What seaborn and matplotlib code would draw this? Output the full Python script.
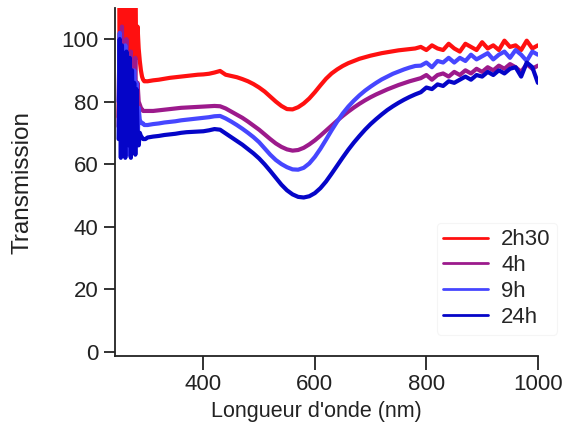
import pandas as pd
import seaborn as sns
import matplotlib.pyplot as plt

# wavelengths (nm): noisy UV edge, smooth middle, noisy red end
wl_edge = [248, 250, 252, 254, 256, 258, 260, 262, 264, 266, 268, 270, 272,
           274, 276, 278, 280, 282, 284, 286, 288, 290, 292, 294, 296]
wl_mid = [300, 310, 320, 330, 340, 350, 360, 370, 380, 390, 400, 410, 420,
          430, 440, 450, 460, 470, 480, 490, 500, 510, 520, 530, 540, 550,
          560, 570, 580, 590, 600, 610, 620, 630, 640, 650, 660, 670, 680,
          690, 700, 710, 720, 730, 740, 750, 760, 770, 780]
wl_end = [790, 800, 810, 820, 830, 840, 850, 860, 870, 880, 890, 900, 910,
          920, 930, 940, 950, 960, 970, 980, 990, 1000]

t_2h30 = ([75, 110, 82, 112, 88, 106, 80, 112, 90, 104, 84, 112, 92, 108, 86,
           110, 94, 104, 97, 93, 90, 88, 87, 86.5, 86.5]
          + [86.5, 86.8, 87, 87.3, 87.6, 87.8, 88, 88.2, 88.4, 88.6, 88.7, 88.9,
             89.3, 89.8, 88.6, 88.2, 87.8, 87.2, 86.5, 85.6, 84.5, 83.2, 81.6,
             80, 78.6, 77.6, 77.5, 78.2, 79.4, 81, 83, 85.2, 87.3, 89, 90.3,
             91.4, 92.3, 93, 93.7, 94.2, 94.7, 95.1, 95.5, 95.8, 96.1, 96.4,
             96.6, 96.8, 97]
          + [97.5, 96.5, 98, 97, 96.5, 98.5, 97, 96, 98.5, 97.5, 96.5, 99, 97,
             98, 96.5, 99.5, 97.5, 98, 96.5, 99.5, 97, 98])
t_4h = ([72, 98, 78, 104, 70, 95, 82, 100, 68, 92, 80, 96, 66, 90, 78, 94, 70,
         86, 80, 79, 78, 77.5, 77, 77, 77]
        + [77, 77, 77.2, 77.4, 77.6, 77.8, 78, 78.1, 78.2, 78.3, 78.4, 78.5,
           78.6, 78.5, 77.8, 76.8, 75.8, 74.8, 73.6, 72.3, 71, 69.5, 68, 66.6,
           65.5, 64.7, 64.3, 64.5, 65.2, 66.3, 67.6, 69.1, 70.7, 72.3, 73.9,
           75.4, 76.8, 78.1, 79.3, 80.4, 81.4, 82.3, 83.1, 83.9, 84.6, 85.3,
           85.9, 86.5, 87]
        + [87.5, 88.5, 87, 88.5, 89, 88, 89.5, 88.5, 90, 89, 90.5, 89.5, 91,
           90, 91.5, 90.5, 92, 91, 89.5, 92, 90.5, 91.5])
t_9h = ([80, 102, 68, 96, 84, 64, 98, 76, 92, 63, 94, 80, 88, 64, 90, 74, 86,
         66, 78, 74, 73.5, 73, 73, 72.5, 72.5]
        + [72.5, 72.8, 73, 73.3, 73.5, 73.7, 74, 74.2, 74.4, 74.6, 74.8, 75,
           75.3, 75.4, 74.6, 73.6, 72.5, 71.3, 70, 68.6, 67, 65, 63, 61.3, 60,
           59, 58.3, 58.2, 58.8, 60.2, 62.3, 64.9, 67.8, 70.8, 73.6, 76.2,
           78.4, 80.3, 82, 83.5, 84.8, 86, 87.1, 88, 88.9, 89.6, 90.3, 90.9,
           91.4]
        + [91.5, 92.5, 91, 93, 92.5, 94, 92.5, 94, 93, 95, 93.5, 94.5, 95.5,
           93.5, 95, 96, 94, 96.5, 95, 93, 96, 95])
t_24h = ([68, 100, 62, 98, 74, 92, 62, 96, 80, 66, 94, 62, 90, 72, 86, 63, 84,
          70, 66, 70, 69, 68.5, 68, 68, 68]
         + [68.5, 68.8, 69, 69.3, 69.5, 69.7, 70, 70.2, 70.3, 70.4, 70.5, 70.8,
            71.2, 71, 69.8, 68.6, 67.4, 66.2, 64.8, 63.4, 61.8, 59.9, 57.8,
            55.6, 53.4, 51.6, 50.3, 49.5, 49.3, 49.7, 50.7, 52.3, 54.4, 56.9,
            59.5, 62.1, 64.6, 66.9, 69, 71, 72.8, 74.4, 75.9, 77.3, 78.5, 79.6,
            80.6, 81.5, 82.3]
         + [83, 84.5, 84, 85.5, 85, 86.5, 86, 87, 88, 87, 88.5, 88, 89.5, 88.5,
            90, 89, 90.5, 91, 88, 92.5, 91, 86])

labels = ['2h30', '4h', '9h', '24h']
colors = ['#ff1010', '#9c1a8c', '#4646ff', '#0505c8']

wl = wl_edge + wl_mid + wl_end
rows = []
for lab, vals in zip(labels, [t_2h30, t_4h, t_9h, t_24h]):
    for w, v in zip(wl, vals):
        rows.append({'wl': w, 'T': v, 'temps': lab})
df = pd.DataFrame(rows)

sns.set_style('ticks')
plt.rcParams['font.family'] = ['Liberation Sans', 'DejaVu Sans']

fig = plt.figure(figsize=(5.65, 4.36), dpi=100)
ax = fig.add_axes([0.204, 0.183, 0.748, 0.799])
sns.lineplot(data=df, x='wl', y='T', hue='temps', palette=colors,
             hue_order=labels, sort=False, estimator=None, lw=3, ax=ax)

ax.set_xlim(242, 1000)
ax.set_ylim(-1.5, 110)
ax.set_xticks([400, 600, 800, 1000])
ax.set_yticks([0, 20, 40, 60, 80, 100])
ax.tick_params(labelsize=16, length=8, width=1.3, colors='#222222', pad=4)
ax.tick_params(axis='x', length=10, pad=3)
for s in ['left', 'bottom']:
    ax.spines[s].set_linewidth(1.3)
    ax.spines[s].set_color('#222222')
sns.despine(ax=ax)
ax.set_xlabel("Longueur d'onde (nm)", fontsize=15.5, color='#222222')
ax.xaxis.set_label_coords(0.475, -0.13)
ax.set_ylabel('Transmission', fontsize=17.5, color='#222222', labelpad=20)

leg = ax.legend(loc='lower right', bbox_to_anchor=(1.072, 0.03), fontsize=16,
                frameon=True, handlelength=2.0, labelspacing=0.22,
                borderpad=0.3, handletextpad=0.6)
leg.get_frame().set_edgecolor('#f3f3f3')
leg.get_frame().set_linewidth(0.8)
for h in leg.get_lines():
    h.set_linewidth(2)

fig.savefig('out.png', dpi=100)
